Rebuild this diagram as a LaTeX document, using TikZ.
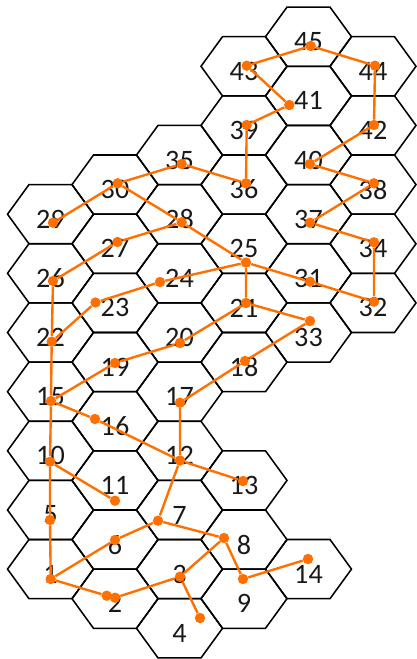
\documentclass[tikz,border=0pt]{standalone}
\usepackage{fontspec}
\setmainfont{Carlito}
\definecolor{trail}{RGB}{255,112,0}

\begin{document}
\begin{tikzpicture}[
  x=0.025cm, y=-0.025cm,
  font=\fontsize{20}{22}\selectfont,
  cell/.style={draw=black, line width=1.1pt},
  num/.style={inner sep=0pt, text=black!90},
  dot/.style={circle, fill=trail, inner sep=0pt, minimum size=0.26cm},
  link/.style={draw=trail, line width=1.7pt}
]
\useasboundingbox (0,0) rectangle (416,659);

% Hex cells (label / centre)
\foreach \lbl/\cx/\cy in {
  1/50.5/569.1, 2/115/598.7, 3/179.5/569.1, 4/179.5/628.3, 5/50.5/510.0,
  6/115/539.6, 7/179.5/510.0, 8/244/539.6, 9/244/598.7, 10/50.5/450.8,
  11/115/480.4, 12/179.5/450.8, 13/244/480.4, 14/308.5/569.1, 15/50.5/391.7,
  16/115/421.2, 17/179.5/391.7, 18/244/362.1, 19/115/362.1, 20/179.5/332.5,
  21/244/302.9, 22/50.5/332.5, 23/115/302.9, 24/179.5/273.3, 25/244/243.8,
  26/50.5/273.3, 27/115/243.8, 28/179.5/214.2, 29/50.5/214.2, 30/115/184.6,
  31/308.5/273.3, 32/373/302.9, 33/308.5/332.5, 34/373/243.8, 35/179.5/155.0,
  36/244/184.6, 37/308.5/214.2, 38/373/184.6, 39/244/125.4, 40/308.5/155.0,
  41/308.5/95.9, 42/373/125.4, 43/244/66.3, 44/373/66.3, 45/308.5/36.7} {
  \draw[cell] (\cx,\cy) ++(-43,0) -- ++(21.5,-29.6) -- ++(43,0) -- ++(21.5,29.6)
    -- ++(-21.5,29.6) -- ++(-43,0) -- cycle;
  \node[num] (c\lbl) at (\cx,\cy+5) {\lbl};
}

% Dots
\node[dot] (d1) at (50.7,579) {};
\node[dot] (d2a) at (106.7,595.7) {};
\node[dot] (d2b) at (115,597.7) {};
\node[dot] (d3) at (180,576.7) {};
\node[dot] (d4) at (200,618) {};
\node[dot] (d5) at (50,520) {};
\node[dot] (d6) at (115,540) {};
\node[dot] (d7) at (158,520.7) {};
\node[dot] (d8) at (224,538) {};
\node[dot] (d9) at (243,579) {};
\node[dot] (d10) at (50,461.7) {};
\node[dot] (d11) at (115,500.7) {};
\node[dot] (d12) at (180,460.5) {};
\node[dot] (d13) at (243,481) {};
\node[dot] (d14) at (308,559) {};
\node[dot] (d15) at (51,401) {};
\node[dot] (d16) at (95,419) {};
\node[dot] (d17) at (180,402.7) {};
\node[dot] (d18) at (245,361) {};
\node[dot] (d19) at (115,363) {};
\node[dot] (d20) at (180,343) {};
\node[dot] (d21) at (246,303) {};
\node[dot] (d22) at (51.7,341.7) {};
\node[dot] (d23) at (95.5,302.5) {};
\node[dot] (d24) at (160,282) {};
\node[dot] (d25) at (246,262.5) {};
\node[dot] (d26) at (53,281) {};
\node[dot] (d27) at (117.5,242) {};
\node[dot] (d28) at (181.7,222.3) {};
\node[dot] (d29) at (53,222.7) {};
\node[dot] (d30) at (117.7,183.3) {};
\node[dot] (d31) at (310,281.7) {};
\node[dot] (d32) at (374,301.7) {};
\node[dot] (d33) at (310,321) {};
\node[dot] (d34) at (374,242.3) {};
\node[dot] (d35) at (181.7,164) {};
\node[dot] (d36) at (246,183.3) {};
\node[dot] (d37) at (310,222.7) {};
\node[dot] (d38) at (374,183.3) {};
\node[dot] (d39) at (246.7,125) {};
\node[dot] (d40) at (310,164) {};
\node[dot] (d41) at (289.3,105) {};
\node[dot] (d42) at (374,125) {};
\node[dot] (d43) at (246.7,65.7) {};
\node[dot] (d44) at (375,65.7) {};
\node[dot] (d45) at (310.7,46) {};

% Links
\draw[link] (d1) -- (d5) -- (d10) -- (d15) -- (d22) -- (d26) -- (d27) -- (d28)
  -- (d25) -- (d31) -- (d32) -- (d34) -- (d37) -- (d38) -- (d40) -- (d42)
  -- (d44) -- (d45) -- (d43) -- (d41) -- (d39) -- (d36) -- (d35) -- (d30) -- (d29);
\draw[link] (d30) -- (d28);
\draw[link] (d1) -- (d2a);
\draw[link] (d2b) -- (d3) -- (d4);
\draw[link] (d3) -- (d8) -- (d9) -- (d14);
\draw[link] (d8) -- (d7) -- (d6) -- (d1);
\draw[link] (d7) -- (d12) -- (d13);
\draw[link] (d10) -- (d11);
\draw[link] (d15) -- (d16) -- (d12) -- (d17) -- (d18) -- (d33) -- (d21) -- (d20)
  -- (d19) -- (d15);
\draw[link] (d22) -- (d23) -- (d24) -- (d25) -- (d21);
\end{tikzpicture}
\end{document}
